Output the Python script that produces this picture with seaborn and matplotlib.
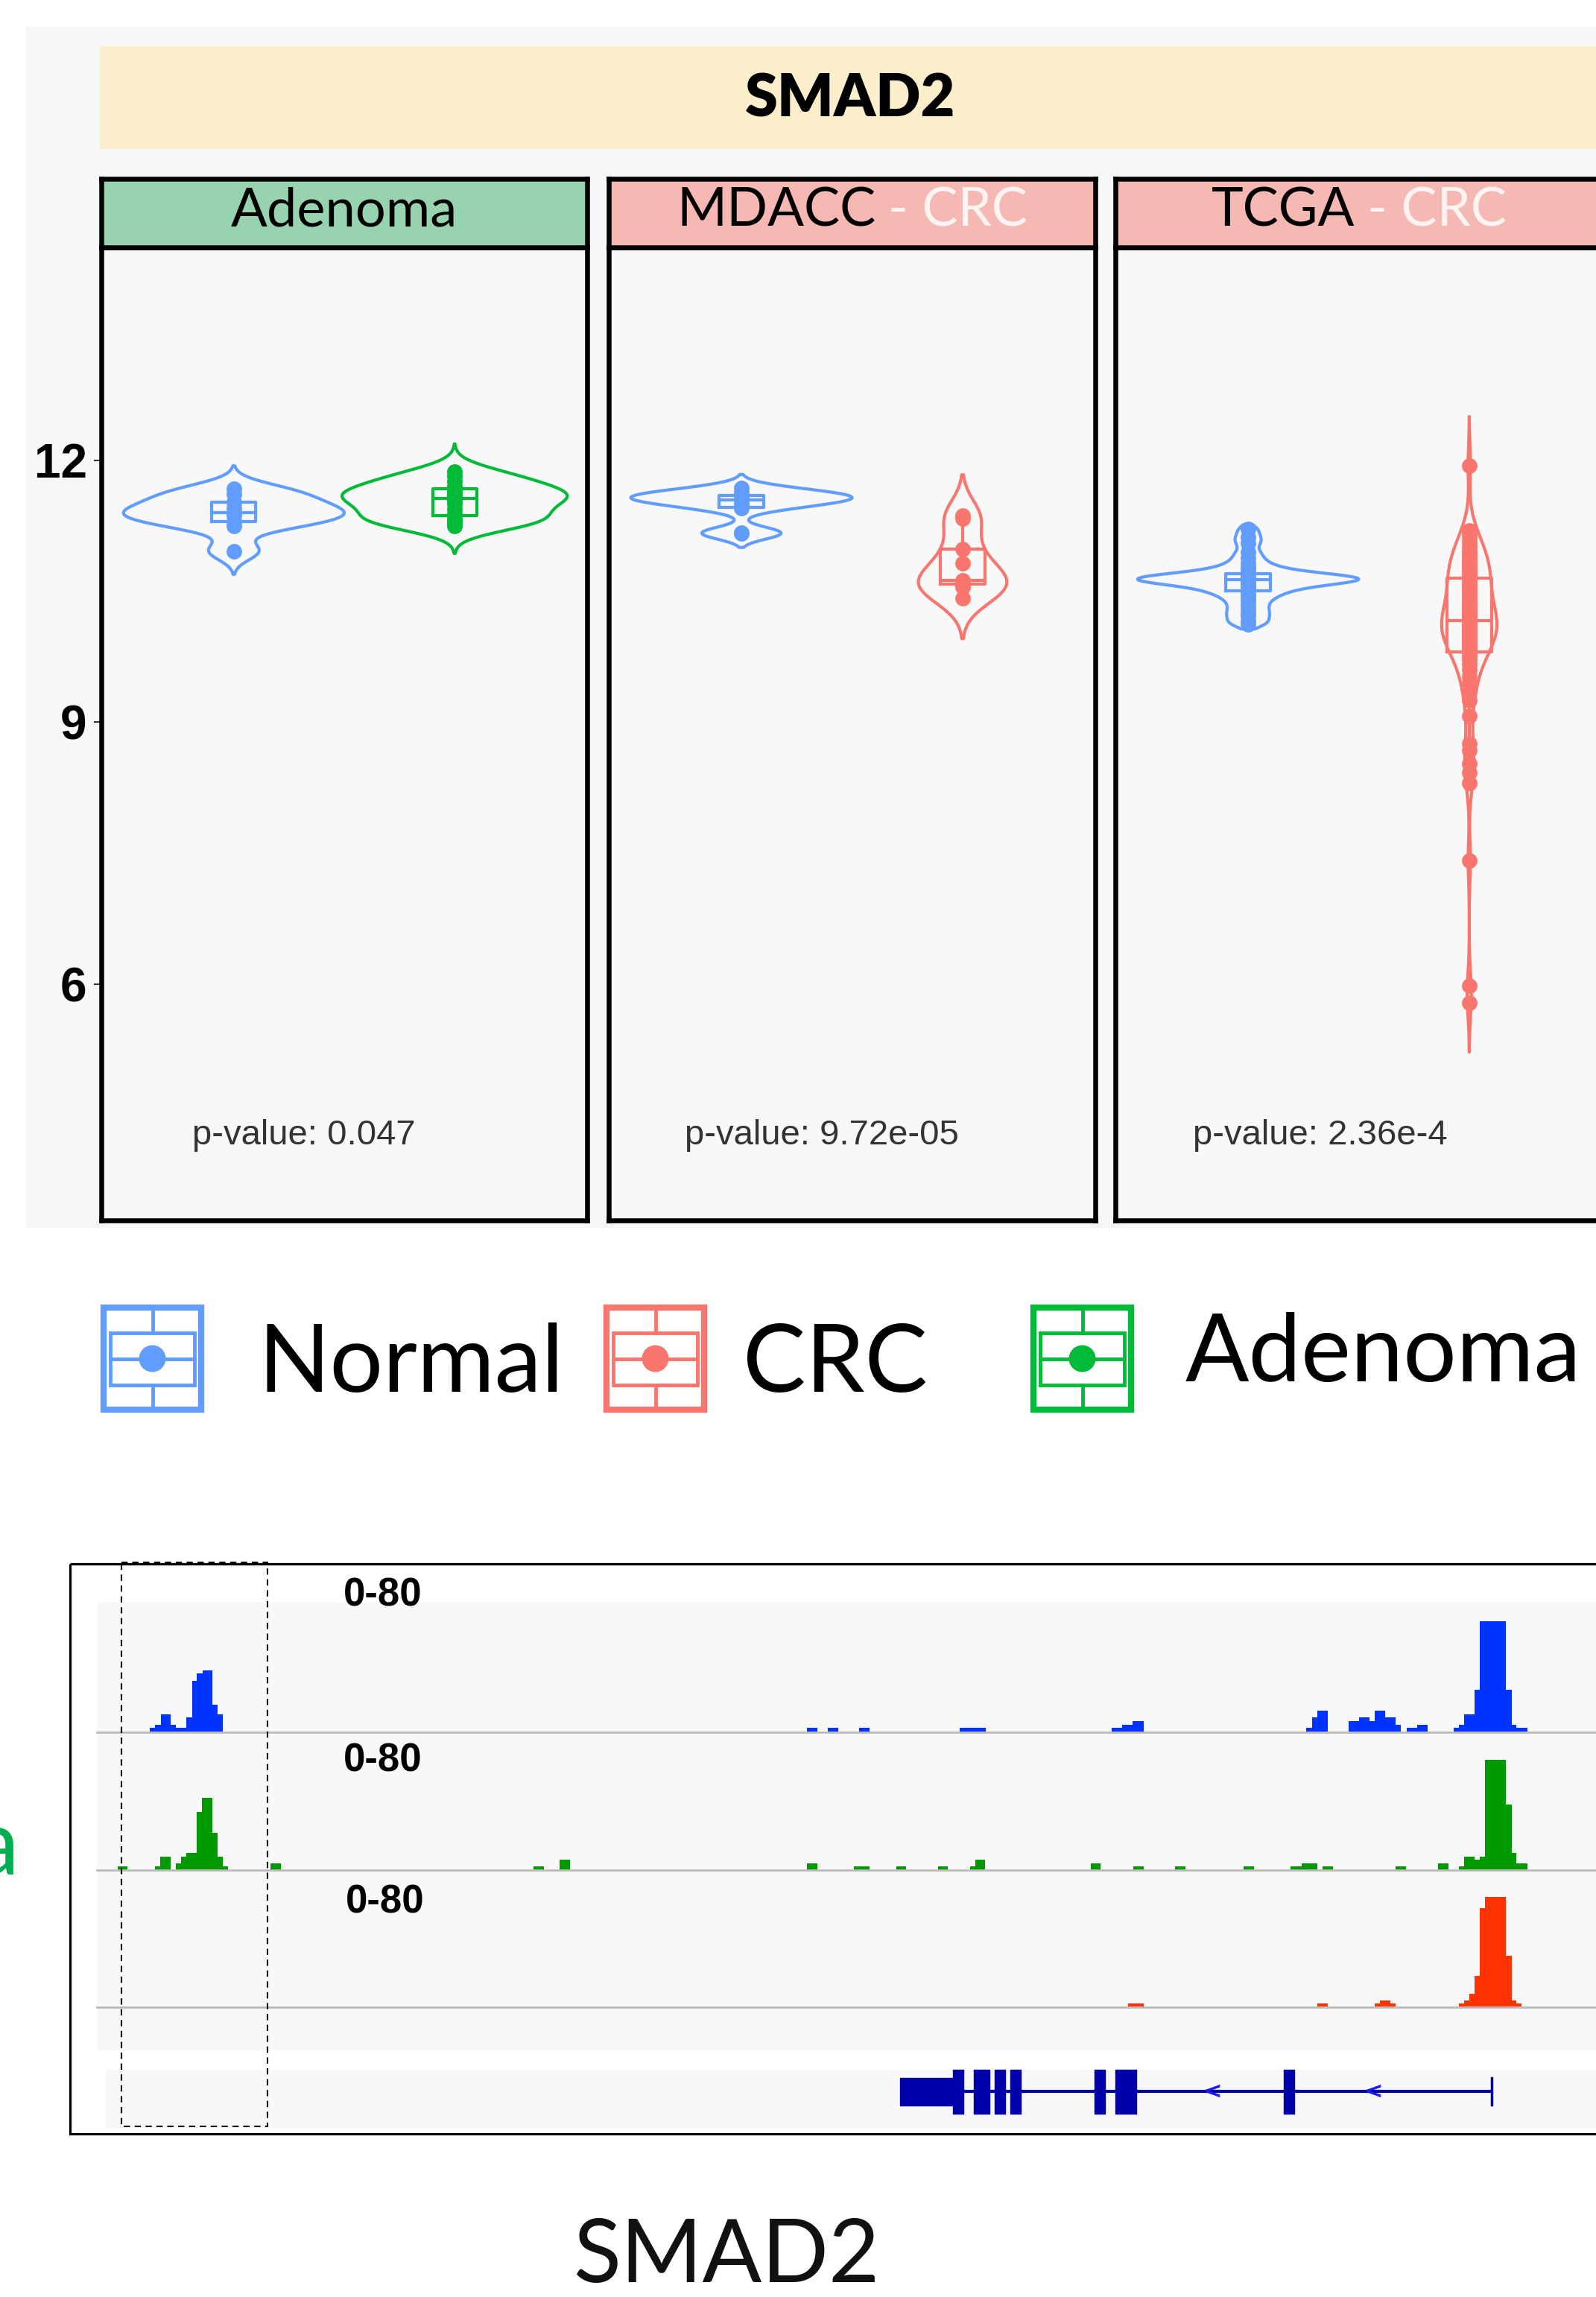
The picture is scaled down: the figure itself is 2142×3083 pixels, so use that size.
import numpy as np
import pandas as pd
import matplotlib
matplotlib.use("Agg")
import matplotlib.pyplot as plt
from matplotlib.patches import Rectangle, Circle
from matplotlib.offsetbox import TextArea, HPacker, AnchoredOffsetbox
import seaborn as sns

# ---------------- data ----------------
gene_name = "SMAD2"
panel_titles = ["Adenoma", "MDACC", "TCGA"]
panel_suffix = ["", "- CRC", "- CRC"]
panel_groups = [["Normal", "Adenoma"], ["Normal", "CRC"], ["Normal", "CRC"]]
p_value_labels = ["p-value: 0.047", "p-value: 9.72e-05", "p-value: 2.36e-4"]
y_ticks = [6, 9, 12]
legend_labels = ["Normal", "CRC", "Adenoma"]

adenoma_normal = [11.67, 11.61, 11.52, 11.45, 11.40, 11.37, 11.30, 11.25, 10.96]
adenoma_adenoma = [11.87, 11.82, 11.76, 11.70, 11.66, 11.62, 11.60, 11.57, 11.55,
                   11.50, 11.44, 11.38, 11.33, 11.30, 11.27, 11.25]
mdacc_normal = [11.68, 11.63, 11.60, 11.58, 11.56, 11.54, 11.50, 11.45, 11.17, 11.16]
mdacc_crc = [11.37, 11.33, 10.98, 10.82, 10.62, 10.60, 10.58, 10.55, 10.42]
tcga_normal = [11.21, 11.12, 11.05, 10.95, 10.88, 10.82, 10.78, 10.75, 10.72, 10.70,
               10.69, 10.68, 10.67, 10.66, 10.65, 10.65, 10.64, 10.64, 10.63, 10.63,
               10.62, 10.61, 10.60, 10.59, 10.58, 10.56, 10.54, 10.52, 10.50, 10.47,
               10.44, 10.40, 10.35, 10.30, 10.25, 10.21, 10.15, 10.12]
tcga_crc = [11.94, 11.20, 11.15, 11.10, 11.05, 11.00, 10.95, 10.92, 10.88, 10.85,
            10.82, 10.80, 10.78, 10.75, 10.72, 10.70, 10.68, 10.65, 10.62, 10.58,
            10.55, 10.52, 10.48, 10.45, 10.42, 10.38, 10.35, 10.32, 10.30, 10.27,
            10.25, 10.22, 10.20, 10.18, 10.16, 10.14, 10.12, 10.10, 10.08, 10.07,
            10.05, 10.04, 10.02, 10.00, 9.98, 9.96, 9.94, 9.92, 9.90, 9.87,
            9.84, 9.80, 9.76, 9.72, 9.66, 9.60, 9.52, 9.45, 9.35, 9.25,
            9.07, 8.75, 8.68, 8.52, 8.42, 8.30, 7.41, 5.98, 5.78]

expression = {
    ("Adenoma", "Normal"): adenoma_normal,
    ("Adenoma", "Adenoma"): adenoma_adenoma,
    ("MDACC", "Normal"): mdacc_normal,
    ("MDACC", "CRC"): mdacc_crc,
    ("TCGA", "Normal"): tcga_normal,
    ("TCGA", "CRC"): tcga_crc,
}

track_range_labels = ["0-80", "0-80", "0-80"]
# coverage bins: (start, end, coverage) along the locus (relative position)
normal_cov = [(7.08, 7.83, 2.6), (7.83, 8.58, 4.4), (8.58, 9.88, 10.4), (9.88, 10.63, 4.4),
              (10.63, 12.0, 2.6), (12.0, 12.75, 8.6), (12.75, 13.43, 30), (13.43, 14.19, 34),
              (14.19, 15.48, 36), (15.48, 16.17, 16), (16.17, 16.92, 10.4),
              (95.3, 96.7, 2.6), (98.1, 99.5, 2.6), (102.3, 103.7, 2.6), (115.8, 119.3, 2.6),
              (136.2, 137.6, 2.6), (137.6, 139.0, 4.4), (139.0, 140.5, 6.4),
              (162.3, 163.1, 2.6), (163.1, 163.8, 8.6), (163.8, 165.2, 12.6),
              (168.0, 169.4, 6.4), (169.4, 170.8, 8.6), (170.8, 171.5, 6.4), (171.5, 172.9, 12.6),
              (172.9, 174.3, 8.6), (174.3, 175.0, 4.4), (175.8, 177.2, 2.6), (177.2, 178.6, 4.4),
              (182.1, 182.8, 2.6), (182.8, 183.5, 4.4), (183.5, 184.9, 10.4), (184.9, 185.6, 24.5),
              (185.6, 189.1, 64.4), (189.1, 189.9, 24.5), (189.9, 190.5, 4.4), (190.5, 192.0, 2.6)]
adenoma_cov = [(2.8, 4.1, 2.0), (7.83, 8.52, 2.0), (8.52, 9.88, 7.9), (10.63, 11.32, 4.0),
               (11.32, 12.0, 7.9), (12.0, 13.43, 9.9), (13.43, 14.12, 33.8), (14.12, 15.48, 42.1),
               (15.48, 16.17, 21.8), (16.17, 16.85, 7.9), (16.85, 17.6, 2.0), (23.27, 24.7, 4.0),
               (58.58, 60.0, 2.0), (62.14, 63.5, 6.0),
               (95.3, 96.7, 4.0), (101.6, 103.7, 2.0), (107.3, 108.6, 2.0), (112.9, 114.2, 2.0),
               (117.2, 117.9, 2.0), (117.9, 119.2, 6.0), (133.4, 134.7, 4.0), (139.1, 140.5, 2.0),
               (144.7, 146.1, 2.0), (153.9, 155.3, 2.0), (160.2, 161.7, 2.0), (161.7, 163.8, 4.0),
               (164.5, 165.9, 2.0), (174.3, 175.7, 2.0), (180.0, 181.4, 4.0), (182.8, 183.5, 2.0),
               (183.5, 184.9, 7.9), (184.9, 185.6, 6.0), (185.6, 186.3, 7.9), (186.3, 189.1, 63.8),
               (189.1, 189.9, 37.9), (189.9, 190.5, 9.9), (190.5, 192.0, 4.0)]
crc_cov = [(138.4, 140.5, 2.2), (163.8, 165.2, 2.2), (171.5, 172.2, 2.2), (172.2, 173.6, 4.0),
           (173.6, 174.3, 2.2), (182.8, 183.5, 2.2), (183.5, 184.2, 4.0), (184.2, 184.9, 7.9),
           (184.9, 185.6, 18.3), (185.6, 186.3, 58.0), (186.3, 189.1, 64.2), (189.1, 189.9, 30.0),
           (189.9, 190.5, 4.0), (190.5, 191.2, 2.2)]
gene_utr = [(107.8, 114.9)]
gene_exons = [(114.9, 116.3), (117.7, 119.8), (120.5, 121.9), (122.6, 124.0),
              (133.9, 135.3), (136.7, 139.5), (159.3, 160.7)]
gene_span = (114.9, 187.2)
strand_marks = [149.8, 171.3]

# ---------------- style ----------------
palette = {"Normal": "#619CFF", "CRC": "#F8766D", "Adenoma": "#00BA38"}
strip_colors = ["#98D3B0", "#F5B8B2", "#F5B8B2"]
violin_style = {  # (max width, bw_adjust, cut)
    ("Adenoma", "Normal"): (1.0, 0.75, 2.6),
    ("Adenoma", "Adenoma"): (1.02, 1.0, 2.8),
    ("MDACC", "Normal"): (1.0, 0.6, 2.3),
    ("MDACC", "CRC"): (0.40, 0.9, 2.3),
    ("TCGA", "Normal"): (1.0, 0.45, 1.0),
    ("TCGA", "CRC"): (0.25, 0.5, 2.5),
}
track_colors = ["#0033FF", "#009900", "#FF3300"]
LW = 3.0

W, H = 2142, 3083
fig = plt.figure(figsize=(W / 100, H / 100), dpi=100)


def fbox(x0, y0, x1, y1):
    return [x0 / W, 1 - y1 / H, (x1 - x0) / W, (y1 - y0) / H]


def canvas_axes(z):
    a = fig.add_axes([0, 0, 1, 1], zorder=z)
    a.set_xlim(0, W)
    a.set_ylim(H, 0)
    a.axis("off")
    a.patch.set_alpha(0)
    return a


bg = canvas_axes(0)      # backgrounds
top = canvas_axes(10)    # overlays: legend, frames, labels

# top background and banner
bg.add_patch(Rectangle((34, 36), W, 1648 - 36, color="#F7F7F7", lw=0))
bg.add_patch(Rectangle((134, 62), W, 138, color="#FBEFCB", lw=0))
top.text(1141, 133, gene_name, ha="center", va="center", fontsize=57,
         fontweight="heavy", family="Lato", color="black")

panel_x = [(136, 788), (817, 1470), (1497, 2150)]
pv_x = [0.187, 0.156, 0.159]

for i, title in enumerate(panel_titles):
    x0, x1 = panel_x[i]
    ax = fig.add_axes(fbox(x0, 332, x1, 1638), zorder=3)
    ax.set_facecolor("#F8F8F8")
    order = panel_groups[i]
    for g in order:
        vals = expression[(title, g)]
        df = pd.DataFrame({"group": [g] * len(vals), "expr": vals})
        w, bwa, cut = violin_style[(title, g)]
        sns.violinplot(data=df, x="group", y="expr", order=order, color=palette[g],
                       fill=False, inner=None, width=w, density_norm="width",
                       bw_adjust=bwa, cut=cut, linewidth=LW, saturation=1, ax=ax)
        sns.boxplot(data=df, x="group", y="expr", order=order, color=palette[g],
                    fill=False, width=0.2, linewidth=LW, showcaps=False,
                    showfliers=False, saturation=1, ax=ax)
        sns.stripplot(data=df, x="group", y="expr", order=order, color=palette[g],
                      jitter=False, size=15, linewidth=0, ax=ax, zorder=5)
    ax.set_xlim(-0.6, 1.6)
    ax.set_ylim(3.29, 14.44)
    ax.set_xlabel("")
    ax.set_ylabel("")
    ax.set_xticks([])
    if i == 0:
        ax.set_yticks(y_ticks)
        ax.set_yticklabels([str(t) for t in y_ticks], fontfamily="Liberation Sans",
                           fontweight="bold", fontsize=46)
        ax.tick_params(axis="y", length=7, width=1.5, color="#333333", pad=7)
    else:
        ax.set_yticks([])
    for s in ax.spines.values():
        s.set_linewidth(4.7)
        s.set_color("black")
    ax.text(pv_x[i], 4.26, p_value_labels[i], transform=ax.get_yaxis_transform(),
            ha="left", va="center", fontsize=34, family="Liberation Sans", color="#333333")

    sx = fig.add_axes(fbox(x0, 240, x1, 332), zorder=3)
    sx.set_facecolor(strip_colors[i])
    sx.set_xticks([])
    sx.set_yticks([])
    for s in sx.spines.values():
        s.set_linewidth(4.7)
        s.set_color("black")
    parts = [TextArea(title, textprops=dict(color="black", size=52, family="Lato"))]
    if panel_suffix[i]:
        parts.append(TextArea(panel_suffix[i], textprops=dict(color="#FFF4F1", size=52, family="Lato")))
    pack = HPacker(children=parts, align="baseline", pad=0, sep=12)
    anch = AnchoredOffsetbox(loc="center", child=pack, pad=0, frameon=False,
                             bbox_to_anchor=(0.5, 0.53), bbox_transform=sx.transAxes,
                             borderpad=0)
    sx.add_artist(anch)

# legend
key_x = [139, 814, 1387]
text_x = [346, 997, 1591]
text_base = [1868, 1868, 1854]
for lab, kx, tx, tb in zip(legend_labels, key_x, text_x, text_base):
    c = palette[lab]
    top.add_patch(Rectangle((kx, 1755), 131, 137, fill=True, facecolor="white",
                            edgecolor=c, lw=6))
    cx = kx + 65.5
    top.add_patch(Rectangle((kx + 9, 1789), 113, 70, fill=False, edgecolor=c, lw=3.5))
    top.plot([cx, cx], [1755, 1789], color=c, lw=3.5)
    top.plot([cx, cx], [1859, 1892], color=c, lw=3.5)
    top.plot([kx + 9, kx + 122], [1823.5, 1823.5], color=c, lw=3.5)
    top.add_patch(Circle((cx, 1823.5), 18, color=c, lw=0))
    top.text(tx, tb, lab, ha="left", va="baseline", fontsize=91, family="Lato", color="black")

# genome browser section
bg.add_patch(Rectangle((130, 2151), W, 601, color="#F8F8F8", lw=0))
bg.add_patch(Rectangle((142, 2778), W, 79, color="#F8F8F8", lw=0))
top.add_patch(Rectangle((94, 2099), 2200, 765, fill=False, edgecolor="black", lw=2.3))
top.text(26, 2516, "Adenoma", ha="right", va="baseline", color="#00B050",
         fontsize=88, family="Lato")
top.text(769, 3063, gene_name, ha="left", va="baseline", fontsize=85,
         fontweight="normal", family="Lato", color="#111111")

track_rows = [(2140, 2325), (2325, 2510), (2510, 2694)]
label_pos = [(461, 2155), (461, 2378), (464, 2567)]
for cov, col, (ty0, ty1), lab, (lx, ly) in zip([normal_cov, adenoma_cov, crc_cov], track_colors,
                                               track_rows, track_range_labels, label_pos):
    tax = fig.add_axes(fbox(130, ty0, W, ty1), zorder=4)
    tax.patch.set_alpha(0)
    tax.axis("off")
    tax.set_xlim(0, (W - 130) / 10)
    tax.set_ylim(0, 80)
    starts = [b[0] for b in cov]
    widths = [b[1] - b[0] for b in cov]
    heights = [b[2] for b in cov]
    tax.bar(starts, heights, width=widths, align="edge", color=col, lw=0)
    tax.axhline(0, color="#BBBBBB", lw=2.0, clip_on=False)
    top.text(lx, ly, lab, ha="left", va="baseline", fontsize=38, fontweight="bold",
             family="Liberation Sans", color="black")

gax = fig.add_axes(fbox(130, 2760, W, 2854), zorder=4)
gax.patch.set_alpha(0)
gax.axis("off")
gax.set_xlim(0, (W - 130) / 10)
gax.set_ylim(-47, 47)
gene_col = "#0000AA"
gax.plot(list(gene_span), [0, 0], color=gene_col, lw=3, solid_capstyle="butt")
gax.broken_barh([(s, e - s) for s, e in gene_utr], (-18.5, 37), color=gene_col)
gax.broken_barh([(s, e - s) for s, e in gene_exons], (-29.5, 59), color=gene_col)
gax.plot([gene_span[1], gene_span[1]], [-18, 18], color=gene_col, lw=2.5)
for m in strand_marks:
    gax.text(m, 0, "<", ha="center", va="center", fontsize=22, fontweight="bold",
             color="#1A1AEE", family="DejaVu Sans")

# dashed highlight box
top.add_patch(Rectangle((163, 2097), 196, 757, fill=False, edgecolor="black",
                        lw=1.5, ls=(0, (4, 3))))

fig.savefig("out.png", dpi=100)
